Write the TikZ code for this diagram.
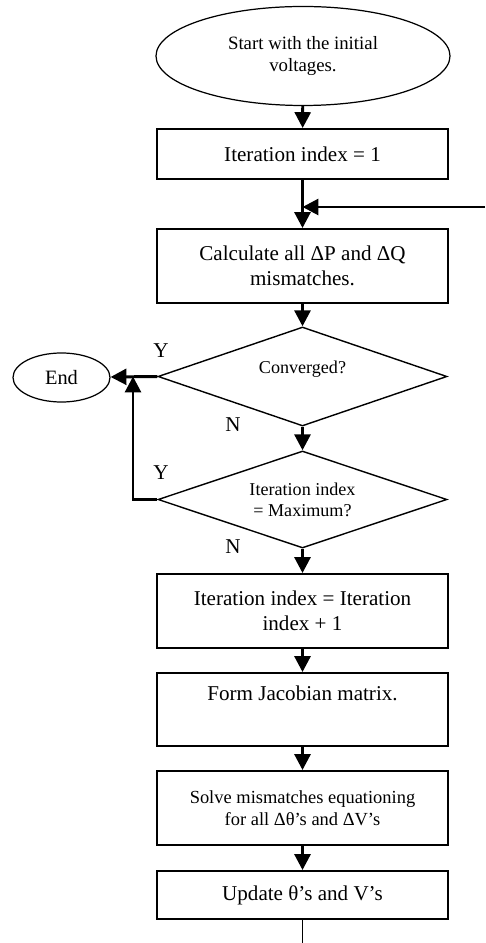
\documentclass[tikz,border=0pt]{standalone}
\usepackage{fontspec}
\setmainfont{Liberation Serif}
\usepackage{tikz}
\usetikzlibrary{arrows.meta, shapes.geometric}

\begin{document}
\begin{tikzpicture}[>={Triangle[length=9pt, width=9pt]},
  every node/.style={font={\fontsize{12}{14.5}\selectfont}},
  procbox/.style={draw, line width=1.1pt, minimum width=5.82cm, inner sep=2pt, align=center},
  decision/.style={draw, diamond, aspect=2.9, line width=0.8pt, minimum width=5.78cm, inner sep=1pt, align=center, font={\fontsize{10.3}{12}\selectfont}},
  term/.style={draw, ellipse, line width=0.7pt, inner sep=1pt, align=center},
  flow/.style={->, line width=1.7pt}]
  \useasboundingbox (0,0) rectangle (9.7,-18.86);

  % Start
  \node[term, minimum width=5.88cm, minimum height=1.98cm, font={\fontsize{10.7}{13}\selectfont}] (start) at (6.06,-1.12) {Start with the initial\\voltages.};
  \node[procbox, minimum height=1.0cm] (init) at (6.05,-3.08) {Iteration index = 1};
  \node[procbox, minimum height=1.48cm] (calc) at (6.05,-5.32) {Calculate all ΔP and ΔQ\\mismatches.};

  % Decisions
  \node[decision, minimum height=1.98cm, text depth=10pt] (conv) at (6.05,-7.53) {Converged?};
  \node[decision, minimum height=1.94cm] (maxit) at (6.05,-9.99) {Iteration index\\= Maximum?};
  \node[term, minimum width=1.94cm, minimum height=0.98cm, font={\fontsize{11.6}{14}\selectfont}] (end) at (1.23,-7.55) {End};

  % Labels
  \node (y1) at (3.22,-7.02) {Y};
  \node (n1) at (4.66,-8.5) {N};
  \node (y2) at (3.22,-9.46) {Y};
  \node (n2) at (4.66,-10.94) {N};

  % Update steps
  \node[procbox, minimum height=1.48cm] (incr) at (6.05,-12.22) {Iteration index = Iteration\\index + 1};
  \node[procbox, minimum height=1.46cm] (jacob) at (6.05,-14.19) {Form Jacobian matrix.\\ \strut};
  \node[procbox, minimum height=1.48cm, font={\fontsize{10.5}{12.5}\selectfont}] (solve) at (6.05,-16.16) {Solve mismatches equationing\\for all Δθ’s and ΔV’s};
  \node[procbox, minimum height=0.96cm] (update) at (6.05,-17.9) {Update θ’s and V’s};

  \coordinate (feed) at (9.7,-4.14);
  \coordinate (loop) at (2.66,-7.53);
  \coordinate (out) at (6.05,-18.86);

  \draw[flow] (start) -- (init);
  \draw[flow] (init) -- (calc);
  \draw[flow] (feed) -- (feed -| init.south);
  \draw[flow] (calc) -- (conv);
  \draw[flow] (conv) -- (maxit);
  \draw[flow] (conv.west) -- (end);
  \draw[flow] (maxit.west) -| (loop);
  \draw[flow] (maxit) -- (incr);
  \draw[flow] (incr) -- (jacob);
  \draw[flow] (jacob) -- (solve);
  \draw[flow] (solve) -- (update);
  \draw[line width=1.1pt] (update) -- (out);
\end{tikzpicture}
\end{document}
